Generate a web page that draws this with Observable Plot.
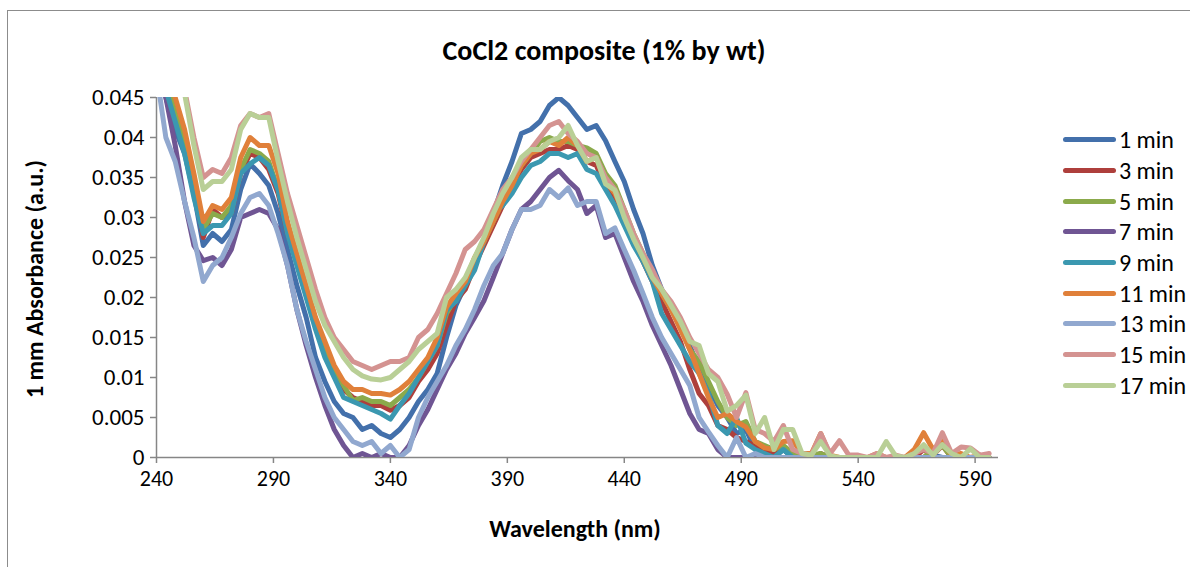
<!DOCTYPE html>
<html>
<head>
<meta charset="utf-8">
<script src="https://cdn.jsdelivr.net/npm/d3@7"></script>
<script src="https://cdn.jsdelivr.net/npm/@observablehq/plot@0.6"></script>
<style>
  html, body { margin: 0; padding: 0; background: #fff; overflow: hidden; }
  #wrap { position: relative; width: 1190px; height: 567px; font-family: Carlito, Calibri, Lato, sans-serif; color: #000; }
  #frame { position: absolute; left: 7px; top: 10px; width: 1200px; height: 600px; border: 1px solid #8c8c8c; box-sizing: border-box; }
  #chart { position: absolute; left: 0; top: 0; }
  .title { position: absolute; left: 604px; top: 50px; transform: translate(-50%, -50%); font-weight: bold; font-size: 28px; white-space: nowrap; }
  .xtitle { position: absolute; left: 575px; top: 528px; transform: translate(-50%, -50%); font-weight: bold; font-size: 24px; white-space: nowrap; }
  .ytitle { position: absolute; left: 34px; top: 279px; transform: translate(-50%, -50%) rotate(-90deg); font-weight: bold; font-size: 24px; white-space: nowrap; }
  .leg { position: absolute; left: 1063px; height: 30px; display: flex; align-items: center; transform: translateY(-50%); white-space: nowrap; font-size: 24px; }
  .leg .sw { display: inline-block; width: 53px; height: 5px; border-radius: 3px; margin-right: 3px; }
</style>
</head>
<body>
<div id="wrap">
  <div id="frame"></div>
  <div id="chart"></div>
</div>
<script>
// ---------- data (absorbance in thousandths, i.e. value / 1000) ----------
const wavelengths = [
  240,244,248,252,256,260,264,268,272,276,
  280,284,288,292,296,300,304,308,312,316,
  320,324,328,332,336,340,344,348,352,356,
  360,364,368,372,376,380,384,388,392,396,
  400,404,408,412,416,420,424,428,432,436,
  440,444,448,452,456,460,464,468,472,476,
  480,484,488,492,496,500,504,508,512,516,
  520,524,528,532,536,540,544,548,552,556,
  560,564,568,572,576,580,584,588,592,596
];

const min1 = [
  52,45,41,38,33,26.5,28,27,28.5,33.5,
  36.7,35.5,34,30.5,26,21.5,17.5,12.5,9.5,7,
  5.5,5,3.5,4,3,2.5,3.5,5,7,8.5,
  10.5,15,19,21.5,24,27,30.5,34,37,40.5,
  41,42,44,45,44,42.5,41,41.5,39.6,37,
  34.5,31,28,24,21,18.8,16.7,14,11,9,
  6.5,5,3,3.5,1,0.5,0,1,0,0.3,
  0,0,0,0,0,0,0,0,0,0,
  0,0,0,0.3,0,0,0,0,0,0
];
const min3 = [
  54,48,43.5,40,34,27.5,31,30,30.5,35.5,
  38,37.5,36,33,28,24.5,20.5,16.5,13.5,11,
  8.5,7.5,7,6.5,6.5,5.9,6.5,7.5,9.5,11,
  13,16.5,19.6,21,24,26.5,29,31.5,34,36,
  37.5,38,38.5,38.5,39,38.5,37,36.5,34,32.5,
  30,27,24.5,22,19.5,17,14.5,11,8,6.5,
  4,3.5,2.5,2,1.5,1,0.5,1,0.3,0,
  0,0.5,0,0,0,0,0,0,0,0,
  0,0,1,0.3,1.5,0,0,0,0,0
];
const min5 = [
  53,47,43,39.5,34,28.5,30.5,30,31.5,36,
  38.5,38,37,33.5,28.5,25,21,17,14,11,
  9,7.1,7.5,7,7,6.5,7.5,8.5,10,12,
  14,18,20,21.5,24.5,27,29.5,32,34.5,36.5,
  38,39.5,40,39.5,39.5,39,38.7,38,35.5,34,
  31,28,25.5,23,20.5,18.5,16.5,13.5,12,9.5,
  7,5,4,4.5,2,1.5,1,1.5,0.5,0,
  0.3,0.5,0,0,0,0,0,0,0,0,
  0,0,0,1,1.5,0,0,0,0,0
];
const min7 = [
  52,45,39,32,26.5,24.6,25,24,26,30,
  30.5,31,30.5,28.5,24,18.5,14,10,6.5,3.5,
  1.5,0,0.5,0,0.5,0,0,1.5,4,6,
  8.5,11,13,15.5,17.5,19.6,22.5,25.5,28.5,31,
  32,33.5,35,35.9,34.6,33.5,30.5,31.5,27.5,28,
  25,22,19.5,16.5,14,11.5,8.5,5.5,3.5,3,
  1,0,0,0,0,0,0,0,0,0,
  0,0,0,0,0,0,0,0,0,0,
  0,0,0,0,0,0,0,0,0,0
];
const min9 = [
  52,46,42,38,32.5,28,29,29,30.5,35.5,
  36.7,37.5,36.5,33.4,28,24,20,16,12.5,10,
  7.5,7,6.5,6,5.5,4.8,6.5,8,10,12,
  14,18.4,19.5,21.5,23.4,27,30.5,31.5,33,35,
  36.5,37,38,38,37.5,38,36,35.5,33.5,31.5,
  29,26.5,24.5,22,18,16,14,12,10.5,8,
  4,3,5,1.8,1,0.5,0,1,0,0,
  0,0,0,0,0,0,0,0,0,0,
  0,0,0,0,0,0,0,0,0,0
];
const min11 = [
  55,49,45,41,35.5,29.5,31.5,31,32.5,37.5,
  40,39,39,35.5,29.5,25.5,21.5,17.5,14.5,11.5,
  9.5,8.5,8.5,8,8,7.8,8.5,9.5,11,12.5,
  15,18.8,20.5,22,25,27,29.5,32,34,36.5,
  38,38.5,39.5,39,40,39,37,37.5,34.5,33,
  30.5,27.5,25,22.5,20.5,18.5,16,13.5,10.5,7.5,
  5,5.5,4.5,3.8,2,1.2,1,2,2.1,0.5,
  0.5,3,0.3,0,0,0,0,0.5,0,0,
  0,1,3.1,1,2,0.3,0.5,0,0.3,0
];
const min13 = [
  48,40,37,32,27.5,22,24,25,27.5,30.5,
  32.5,33,31.5,28,24,18.5,14.5,11,7.5,5,
  3.5,2,1.5,2,0.5,1.5,0,1,5,7.5,
  9.5,11.5,14,16,18.5,21.5,24,25.5,28.5,31,
  31,31.5,33.5,32.5,33.7,31.5,32,32,28,28.7,
  26,23.4,20.5,17.5,15,13,11,9,5,3.2,
  1.5,0,2.5,0,0.5,0,0,0,0,0,
  0,0,0,0,0,0,0,0,0,0,
  0,0,0,0,0,0,0,0,0,0
];
const min15 = [
  57,52,48.5,46,40,35,36,35.5,37.5,41.5,
  43,42.5,43,38,33,29,25,21,17.5,15,
  13.5,12,11.5,11,11.5,12,12,12.5,15,16,
  18,20.5,23,26,27,28.5,31,33.5,35,37,
  38.5,40,41.5,42,40.5,39.5,38,37.5,35,33.5,
  31,28,25.5,23.5,21,19.5,17.5,15,13,11,
  10,7.9,5,8.1,3.5,3,2,4,1,0.5,
  0.3,3,0.5,2.1,0.3,0.3,0,0.5,0,0.3,
  0,0.5,1,0.5,3.1,0.5,1.3,1.2,0.3,0.5
];
const min17 = [
  57,52,48,45.5,39,33.5,34.5,34.5,36,41,
  43,42.5,42.5,37,32,27.5,23.5,19.5,16.5,14.5,
  12.5,11,10.2,9.8,9.7,10,11,12,13.5,14.5,
  15.5,20,21,22.5,25,27.5,30.5,33,35,37.5,
  38.5,38.5,39.5,40,41.5,39,37,37.5,34.2,33.4,
  30,27.3,25,22.5,21,19,17,14.5,14,10.5,
  9.5,5.8,6.5,7.8,3,5,1,3.5,3.5,0.5,
  0.3,2,0.2,0,0,0,0,0,2,0.2,
  0,0.5,1.6,0.3,1.6,0.5,0,1.1,0,0
];

const seriesNames = ["1 min","3 min","5 min","7 min","9 min","11 min","13 min","15 min","17 min"];
const seriesValues = [min1, min3, min5, min7, min9, min11, min13, min15, min17];
const seriesColors = ["#4370AB","#AE3F3C","#8BAA4B","#6F5593","#3B98B0","#E0803A","#91A8CF","#D49391","#B9CF96"];

const xTicks = [240, 290, 340, 390, 440, 490, 540, 590];
const yTicks = [0, 0.005, 0.01, 0.015, 0.02, 0.025, 0.03, 0.035, 0.04, 0.045];
const yTickLabels = ["0","0.005","0.01","0.015","0.02","0.025","0.03","0.035","0.04","0.045"];

const titleText = "CoCl2 composite (1% by wt)";
const xTitle = "Wavelength (nm)";
const yTitle = "1 mm Absorbance (a.u.)";

// ---------- build table ----------
const rows = [];
seriesNames.forEach((name, i) => {
  wavelengths.forEach((w, j) => rows.push({nm: w, v: seriesValues[i][j] / 1000, s: name}));
});

const axisGray = "#868686";
const chart = Plot.plot({
  width: 1190,
  height: 567,
  marginLeft: 156,
  marginRight: 192,
  marginTop: 97,
  marginBottom: 110,
  style: {fontFamily: "Carlito, Calibri, Lato, sans-serif", fontSize: "23px", background: "transparent", color: "#000", overflow: "visible"},
  x: {domain: [240, 600]},
  y: {domain: [0, 0.045]},
  color: {domain: seriesNames, range: seriesColors},
  marks: [
    Plot.ruleX([240], {stroke: axisGray, strokeWidth: 1.5}),
    Plot.ruleY([0], {stroke: axisGray, strokeWidth: 1.5}),
    Plot.axisX({ticks: xTicks, tickSize: 6, tickPadding: 7, stroke: axisGray, strokeWidth: 1.5, fill: "#000", fontSize: 22, label: null}),
    Plot.axisY({ticks: yTicks, tickSize: 6, tickPadding: 6, stroke: axisGray, strokeWidth: 1.5, fill: "#000", fontSize: 23, label: null,
      tickFormat: d => yTickLabels[yTicks.indexOf(d)]}),
    Plot.line(rows, {x: "nm", y: "v", z: "s", stroke: "s", strokeWidth: 5, strokeLinejoin: "round", strokeLinecap: "round", clip: true})
  ]
});
document.getElementById("chart").appendChild(chart);

// ---------- texts ----------
const wrap = document.getElementById("wrap");
function addDiv(cls, text) {
  const d = document.createElement("div");
  d.className = cls;
  d.textContent = text;
  wrap.appendChild(d);
  return d;
}
addDiv("title", titleText);
addDiv("xtitle", xTitle);
addDiv("ytitle", yTitle);

// ---------- legend ----------
const legendRowY = [139, 170, 201, 231, 262, 293, 323, 354, 385];
seriesNames.forEach((name, i) => {
  const row = document.createElement("div");
  row.className = "leg";
  row.style.top = legendRowY[i] + "px";
  const sw = document.createElement("span");
  sw.className = "sw";
  sw.style.background = seriesColors[i];
  const t = document.createElement("span");
  t.textContent = name;
  row.appendChild(sw);
  row.appendChild(t);
  wrap.appendChild(row);
});
</script>
</body>
</html>
